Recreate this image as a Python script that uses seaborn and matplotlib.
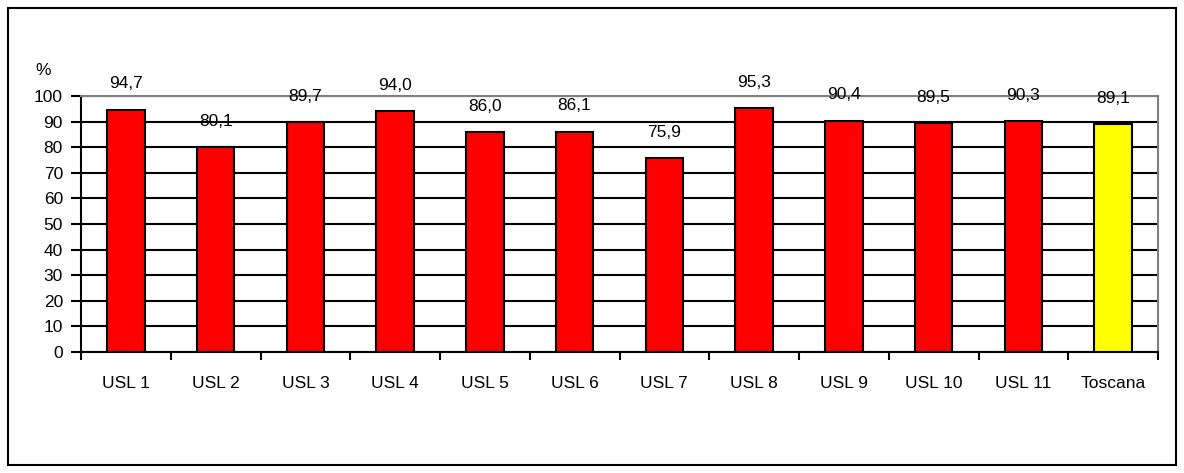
import matplotlib
matplotlib.use("Agg")
import matplotlib.pyplot as plt
import seaborn as sns
import pandas as pd
from matplotlib.patches import Rectangle

categories = ["USL 1", "USL 2", "USL 3", "USL 4", "USL 5", "USL 6",
              "USL 7", "USL 8", "USL 9", "USL 10", "USL 11", "Toscana"]
values = [94.7, 80.1, 89.7, 94.0, 86.0, 86.1, 75.9, 95.3, 90.4, 89.5, 90.3, 89.1]
bar_colors = ["#FF0000"] * 11 + ["#FFFF00"]

df = pd.DataFrame({"area": categories, "pct": values})

sns.set_style("white")
plt.rcParams["font.family"] = ["Liberation Sans", "DejaVu Sans"]
plt.rcParams["text.color"] = "black"
plt.rcParams["xtick.color"] = "black"
plt.rcParams["ytick.color"] = "black"

fig = plt.figure(figsize=(11.84, 4.73), dpi=100)
ax = fig.add_axes([81 / 1184, 1 - 352 / 473, (1158 - 81) / 1184, (352 - 96) / 473])

sns.barplot(data=df, x="area", y="pct", hue="area", palette=bar_colors,
            legend=False, width=0.42, edgecolor="black", linewidth=1.5,
            saturation=1, ax=ax, zorder=3)

ax.set_ylim(0, 100)
ax.set_xlim(-0.5, len(categories) - 0.5)
ax.set_yticks(range(0, 101, 10))
ax.yaxis.grid(True, color="black", linewidth=1.5, zorder=0)
ax.set_axisbelow(True)

ax.set_xticks([i - 0.5 for i in range(len(categories) + 1)], minor=True)
ax.set_xticks(range(len(categories)))
ax.set_xticklabels(categories, fontsize=12.5)
ax.tick_params(axis="x", which="major", length=0, pad=17, bottom=True)
ax.tick_params(axis="x", which="minor", length=6, width=1.5, color="black",
               direction="out", bottom=True)
ax.tick_params(axis="y", length=7, width=1.5, color="black", direction="out",
               labelsize=12.5, pad=6, left=True)
ax.set_xlabel("")
ax.set_ylabel("")

for side in ["left", "bottom"]:
    ax.spines[side].set_color("black")
    ax.spines[side].set_linewidth(1.5)
for side in ["top", "right"]:
    ax.spines[side].set_color("#808080")
    ax.spines[side].set_linewidth(1.5)

for i, v in enumerate(values):
    ax.text(i, v + 10, f"{v:.1f}".replace(".", ","), ha="center", va="center",
            fontsize=12.5, clip_on=False)

ax.text(-0.035, 1.10, "%", transform=ax.transAxes, fontsize=12.5, ha="center", va="center")

fig.patches.append(Rectangle((8 / 1184, 8 / 473), 1168 / 1184, 457 / 473,
                             transform=fig.transFigure, fill=False,
                             edgecolor="black", linewidth=1.5))

fig.savefig("out.png", dpi=100)
